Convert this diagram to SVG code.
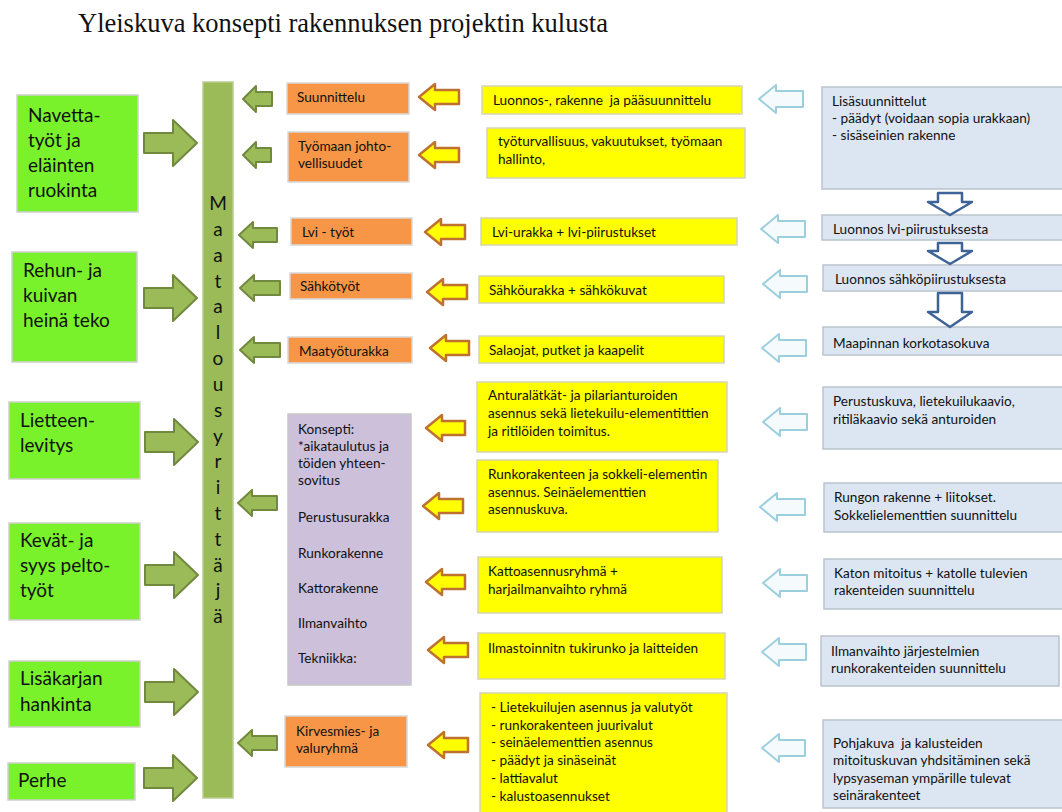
<svg xmlns="http://www.w3.org/2000/svg" width="1062" height="812" viewBox="0 0 1062 812">
<style>
text{font-family:Lato,"Liberation Sans",sans-serif;fill:#111}
.t{font-family:"Liberation Serif","Times New Roman",serif;font-size:26.5px}
.g{fill:#7AF22B;stroke:#CFCFCF;stroke-width:1.5}
.gt{font-size:19px}
.bar{fill:#9BBB59;stroke:#B9CF8E;stroke-width:1.5}
.bt{font-size:19px;text-anchor:middle}
.o{fill:#F79646;stroke:#D8D8D8;stroke-width:1.5}
.y{fill:#FFFF00;stroke:#D5D5B8;stroke-width:1.5}
.b{fill:#DCE6F2;stroke:#BAC3CE;stroke-width:1.5}
.p{fill:#CCC0DA;stroke:#C6C6C6;stroke-width:1.5}
.s{font-size:13.6px}
.ga{fill:#9BBB59;stroke:#71893F;stroke-width:2;stroke-linejoin:round}
.ya{fill:#FFFF00;stroke:#BE7232;stroke-width:2.5;stroke-linejoin:round}
.la{fill:#F5FAFC;stroke:#9CCFDE;stroke-width:2;stroke-linejoin:round}
.da{fill:#FFFFFF;stroke:#3E6497;stroke-width:2.5;stroke-linejoin:round}
</style>
<text class="t" x="78" y="32">Yleiskuva konsepti rakennuksen projektin kulusta</text>

<g id="bar"><rect class="bar" x="203" y="82" width="30" height="716"/>
<text class="bt" x="218" y="210">M</text><text class="bt" x="218" y="236">a</text><text class="bt" x="218" y="262">a</text><text class="bt" x="218" y="288">t</text><text class="bt" x="218" y="313">a</text><text class="bt" x="218" y="339">l</text><text class="bt" x="218" y="365">o</text><text class="bt" x="218" y="391">u</text><text class="bt" x="218" y="417">s</text><text class="bt" x="218" y="443">y</text><text class="bt" x="218" y="468">r</text><text class="bt" x="218" y="494">i</text><text class="bt" x="218" y="520">t</text><text class="bt" x="218" y="546">t</text><text class="bt" x="218" y="572">ä</text><text class="bt" x="218" y="597">j</text><text class="bt" x="218" y="623">ä</text></g>

<g id="navetta"><rect class="g" x="17" y="95" width="121" height="117"/><text class="gt" x="28" y="122">Navetta-</text><text class="gt" x="28" y="147">työt ja</text><text class="gt" x="28" y="172">eläinten</text><text class="gt" x="28" y="197">ruokinta</text></g>
<g id="rehun"><rect class="g" x="12" y="252" width="125" height="110"/><text class="gt" x="23" y="277">Rehun- ja</text><text class="gt" x="23" y="302">kuivan</text><text class="gt" x="23" y="327">heinä teko</text></g>
<g id="lietteen"><rect class="g" x="9" y="402" width="131" height="77"/><text class="gt" x="20" y="427">Lietteen-</text><text class="gt" x="20" y="452">levitys</text></g>
<g id="kevat"><rect class="g" x="9" y="523" width="131" height="97"/><text class="gt" x="20" y="547">Kevät- ja</text><text class="gt" x="20" y="572">syys pelto-</text><text class="gt" x="20" y="597">työt</text></g>
<g id="lisakarjan"><rect class="g" x="9" y="661" width="131" height="66"/><text class="gt" x="20" y="685">Lisäkarjan</text><text class="gt" x="20" y="711">hankinta</text></g>
<g id="perhe"><rect class="g" x="8" y="763" width="127" height="37"/><text class="gt" x="18" y="787">Perhe</text></g>

<g id="suunnittelu"><rect class="o" x="287" y="83" width="122" height="31"/><text class="s" x="297" y="102">Suunnittelu</text></g>
<g id="tyomaan"><rect class="o" x="288" y="132" width="121" height="50"/><text class="s" x="298" y="151">Työmaan johto-</text><text class="s" x="298" y="168">vellisuudet</text></g>
<g id="lvi"><rect class="o" x="291" y="218" width="121" height="27"/><text class="s" x="302" y="237">Lvi - työt</text></g>
<g id="sahkotyot"><rect class="o" x="290" y="273" width="122" height="26"/><text class="s" x="300" y="291">Sähkötyöt</text></g>
<g id="maatyo"><rect class="o" x="288" y="337" width="124" height="26"/><text class="s" x="299" y="356">Maatyöturakka</text></g>
<g id="konsepti"><rect class="p" x="288" y="414" width="123" height="271"/>
<text class="s" x="298" y="434">Konsepti:</text><text class="s" x="298" y="451">*aikataulutus ja</text><text class="s" x="298" y="468">töiden yhteen-</text><text class="s" x="298" y="485">sovitus</text><text class="s" x="298" y="522">Perustusurakka</text><text class="s" x="298" y="558">Runkorakenne</text><text class="s" x="298" y="593">Kattorakenne</text><text class="s" x="298" y="628">Ilmanvaihto</text><text class="s" x="298" y="663">Tekniikka:</text></g>
<g id="kirvesmies"><rect class="o" x="285" y="716" width="122" height="51"/><text class="s" x="296" y="736">Kirvesmies- ja</text><text class="s" x="296" y="753">valuryhmä</text></g>

<g id="y1"><rect class="y" x="482" y="86" width="260" height="28"/><text class="s" x="493" y="105">Luonnos-, rakenne&#160; ja pääsuunnittelu</text></g>
<g id="y2"><rect class="y" x="487" y="128" width="258" height="50"/><text class="s" x="498" y="146">työturvallisuus, vakuutukset, työmaan</text><text class="s" x="498" y="164">hallinto,</text></g>
<g id="y3"><rect class="y" x="481" y="218" width="256" height="27"/><text class="s" x="492" y="237">Lvi-urakka + lvi-piirustukset</text></g>
<g id="y4"><rect class="y" x="479" y="276" width="245" height="27"/><text class="s" x="489" y="295">Sähköurakka + sähkökuvat</text></g>
<g id="y5"><rect class="y" x="479" y="336" width="245" height="27"/><text class="s" x="489" y="355">Salaojat, putket ja kaapelit</text></g>
<g id="y6"><rect class="y" x="477" y="382" width="250" height="70"/><text class="s" x="488" y="400">Anturalätkät- ja pilarianturoiden</text><text class="s" x="488" y="418">asennus sekä lietekuilu-elementittien</text><text class="s" x="488" y="436">ja ritilöiden toimitus.</text></g>
<g id="y7"><rect class="y" x="477" y="460" width="241" height="72"/><text class="s" x="488" y="479">Runkorakenteen ja sokkeli-elementin</text><text class="s" x="488" y="497">asennus. Seinäelementtien</text><text class="s" x="488" y="514">asennuskuva.</text></g>
<g id="y8"><rect class="y" x="478" y="557" width="244" height="56"/><text class="s" x="488" y="576">Kattoasennusryhmä +</text><text class="s" x="488" y="594">harjailmanvaihto ryhmä</text></g>
<g id="y9"><rect class="y" x="478" y="633" width="247" height="46"/><text class="s" x="488" y="653">Ilmastoinnitn tukirunko ja laitteiden</text></g>
<g id="y10"><rect class="y" x="480" y="693" width="247" height="125"/><text class="s" x="491" y="712">- Lietekuilujen asennus ja valutyöt</text><text class="s" x="491" y="730">- runkorakenteen juurivalut</text><text class="s" x="491" y="747">- seinäelementtien asennus</text><text class="s" x="491" y="765">- päädyt ja sinäseinät</text><text class="s" x="491" y="783">- lattiavalut</text><text class="s" x="491" y="801">- kalustoasennukset</text></g>

<g id="b1"><rect class="b" x="822" y="87" width="250" height="102"/><text class="s" x="832" y="106">Lisäsuunnittelut</text><text class="s" x="832" y="123">- päädyt (voidaan sopia urakkaan)</text><text class="s" x="832" y="140">- sisäseinien rakenne</text></g>
<g id="b2"><rect class="b" x="822" y="215" width="250" height="25"/><text class="s" x="833" y="234">Luonnos lvi-piirustuksesta</text></g>
<g id="b3"><rect class="b" x="823" y="265" width="250" height="26"/><text class="s" x="835" y="284">Luonnos sähköpiirustuksesta</text></g>
<g id="b4"><rect class="b" x="823" y="327" width="250" height="28"/><text class="s" x="833" y="348">Maapinnan korkotasokuva</text></g>
<g id="b5"><rect class="b" x="823" y="387" width="250" height="62"/><text class="s" x="833" y="406">Perustuskuva, lietekuilukaavio,</text><text class="s" x="833" y="424">ritiläkaavio sekä anturoiden</text></g>
<g id="b6"><rect class="b" x="824" y="483" width="250" height="49"/><text class="s" x="834" y="502">Rungon rakenne + liitokset.</text><text class="s" x="834" y="520">Sokkelielementtien suunnittelu</text></g>
<g id="b7"><rect class="b" x="824" y="559" width="250" height="50"/><text class="s" x="834" y="578">Katon mitoitus + katolle tulevien</text><text class="s" x="834" y="595">rakenteiden suunnittelu</text></g>
<g id="b8"><rect class="b" x="821" y="636" width="238" height="50"/><text class="s" x="831" y="656">Ilmanvaihto järjestelmien</text><text class="s" x="831" y="673">runkorakenteiden suunnittelu</text></g>
<g id="b9"><rect class="b" x="823" y="720" width="250" height="88"/><text class="s" x="833" y="748">Pohjakuva&#160; ja kalusteiden</text><text class="s" x="833" y="765">mitoituskuvan yhdsitäminen sekä</text><text class="s" x="833" y="783">lypsyaseman ympärille tulevat</text><text class="s" x="833" y="800">seinärakenteet</text></g>

<g id="connectors">
<polygon class="ga" points="144,133 173,133 173,120 197,143 173,166 173,153 144,153"/>
<polygon class="ga" points="144,288 173,288 173,275 197,298 173,321 173,308 144,308"/>
<polygon class="ga" points="145,432 174,432 174,419 198,442 174,465 174,452 145,452"/>
<polygon class="ga" points="145,565 174,565 174,552 198,575 174,598 174,585 145,585"/>
<polygon class="ga" points="145,682 174,682 174,669 198,692 174,715 174,702 145,702"/>
<polygon class="ga" points="144,768 173,768 173,755 197,778 173,801 173,788 144,788"/>

<polygon class="ga" points="243,99 256,86 256,92 272,92 272,106 256,106 256,112"/>
<polygon class="ga" points="243,155 256,142 256,148 271,148 271,162 256,162 256,168"/>
<polygon class="ga" points="239,235 253,222 253,228 277,228 277,242 253,242 253,248"/>
<polygon class="ga" points="240,288 254,275 254,281 280,281 280,295 254,295 254,301"/>
<polygon class="ga" points="240,350 254,337 254,343 280,343 280,357 254,357 254,363"/>
<polygon class="ga" points="238,503 252,490 252,496 277,496 277,510 252,510 252,516"/>
<polygon class="ga" points="238,743 252,730 252,736 277,736 277,750 252,750 252,756"/>

<polygon class="ya" points="419,97 435,84 435,90 459,90 459,104 435,104 435,110"/>
<polygon class="ya" points="419,155 435,142 435,148 459,148 459,162 435,162 435,168"/>
<polygon class="ya" points="425,232 441,219 441,225 465,225 465,239 441,239 441,245"/>
<polygon class="ya" points="427,292 443,279 443,285 467,285 467,299 443,299 443,305"/>
<polygon class="ya" points="430,348 446,335 446,341 469,341 469,355 446,355 446,361"/>
<polygon class="ya" points="426,428 442,415 442,421 465,421 465,435 442,435 442,441"/>
<polygon class="ya" points="423,506 439,493 439,499 463,499 463,513 439,513 439,519"/>
<polygon class="ya" points="426,582 442,569 442,575 465,575 465,589 442,589 442,595"/>
<polygon class="ya" points="428,650 444,637 444,643 468,643 468,657 444,657 444,663"/>
<polygon class="ya" points="428,745 444,732 444,738 468,738 468,752 444,752 444,758"/>

<polygon class="la" points="759,99 776,85 776,91 803,91 803,107 776,107 776,113"/>
<polygon class="la" points="761,229 778,215 778,221 805,221 805,237 778,237 778,243"/>
<polygon class="la" points="763,284 780,270 780,276 807,276 807,292 780,292 780,298"/>
<polygon class="la" points="762,348 779,334 779,340 806,340 806,356 779,356 779,362"/>
<polygon class="la" points="763,422 780,408 780,414 807,414 807,430 780,430 780,436"/>
<polygon class="la" points="760,507 777,493 777,499 805,499 805,515 777,515 777,521"/>
<polygon class="la" points="763,583 780,569 780,575 807,575 807,591 780,591 780,597"/>
<polygon class="la" points="762,652 779,638 779,644 806,644 806,660 779,660 779,666"/>
<polygon class="la" points="762,748 779,734 779,740 805,740 805,756 779,756 779,762"/>

<polygon class="da" points="938,193 962,193 962,202 972,202 950,215 928,202 938,202"/>
<polygon class="da" points="938,243 962,243 962,251 972,251 950,264 928,251 938,251"/>
<polygon class="da" points="938,293 962,293 962,312 972,312 950,327 928,312 938,312"/>
</g>
</svg>
